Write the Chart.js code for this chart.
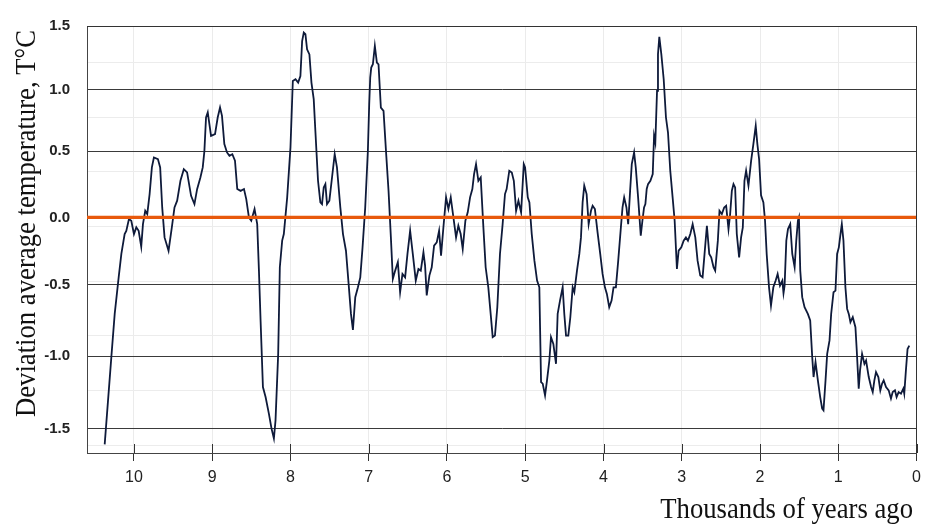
<!DOCTYPE html>
<html><head><meta charset="utf-8">
<script src="https://cdn.jsdelivr.net/npm/chart.js@4.4.1/dist/chart.umd.min.js"></script>
<style>html,body{margin:0;padding:0;background:#fff;}#wrap{width:928px;height:528px;}</style>
</head><body><div id="wrap"><canvas id="c" width="928" height="528"></canvas></div>
<script>
// Thousands of years ago
const years = [10.374,10.289,10.246,10.195,10.161,10.119,10.098,10.064,10.034,10.0,9.97,9.94,9.907,9.885,9.856,9.83,9.80,9.771,9.745,9.694,9.665,9.639,9.609,9.558,9.516,9.482,9.448,9.406,9.363,9.321,9.27,9.227,9.193,9.151,9.121,9.10,9.079,9.057,9.015,8.964,8.93,8.90,8.875,8.845,8.811,8.78,8.743,8.709,8.68,8.637,8.594,8.565,8.531,8.501,8.459,8.425,8.403,8.382,8.352,8.318,8.276,8.242,8.212,8.191,8.157,8.136,8.106,8.085,8.042,8.0,7.97,7.936,7.902,7.873,7.851,7.83,7.809,7.788,7.758,7.732,7.703,7.682,7.648,7.618,7.597,7.575,7.554,7.533,7.503,7.469,7.435,7.406,7.363,7.329,7.291,7.257,7.227,7.202,7.172,7.138,7.108,7.079,7.045,7.011,6.994,6.981,6.968,6.947,6.922,6.896,6.875,6.845,6.811,6.777,6.747,6.717,6.692,6.662,6.628,6.599,6.569,6.535,6.505,6.471,6.437,6.399,6.365,6.335,6.301,6.28,6.259,6.225,6.195,6.165,6.131,6.101,6.076,6.046,6.012,5.982,5.952,5.918,5.884,5.855,5.825,5.799,5.765,5.735,5.705,5.676,5.654,5.629,5.599,5.569,5.535,5.506,5.472,5.442,5.416,5.387,5.357,5.323,5.289,5.259,5.238,5.204,5.172,5.146,5.117,5.087,5.053,5.019,5.002,4.968,4.947,4.917,4.883,4.849,4.82,4.798,4.777,4.747,4.722,4.692,4.671,4.641,4.607,4.586,4.556,4.522,4.501,4.479,4.45,4.424,4.394,4.373,4.339,4.309,4.288,4.267,4.246,4.216,4.19,4.16,4.139,4.11,4.076,4.042,4.012,3.982,3.957,3.927,3.897,3.872,3.842,3.812,3.778,3.757,3.736,3.707,3.685,3.66,3.639,3.609,3.588,3.558,3.524,3.503,3.482,3.465,3.448,3.431,3.401,3.371,3.354,3.338,3.316,3.304,3.287,3.261,3.231,3.202,3.176,3.147,3.117,3.091,3.062,3.04,3.006,2.976,2.947,2.921,2.891,2.861,2.827,2.798,2.764,2.734,2.709,2.679,2.649,2.624,2.594,2.573,2.539,2.518,2.488,2.458,2.433,2.403,2.382,2.36,2.339,2.318,2.297,2.267,2.242,2.22,2.199,2.178,2.148,2.114,2.085,2.055,2.034,2.012,1.987,1.957,1.936,1.915,1.885,1.86,1.83,1.8,1.775,1.745,1.715,1.70,1.686,1.664,1.643,1.614,1.588,1.558,1.537,1.516,1.503,1.486,1.461,1.431,1.389,1.359,1.333,1.316,1.291,1.261,1.231,1.206,1.189,1.163,1.142,1.112,1.091,1.061,1.036,1.015,0.993,0.972,0.955,0.934,0.909,0.887,0.866,0.845,0.815,0.781,0.764,0.739,0.722,0.696,0.666,0.645,0.611,0.581,0.56,0.539,0.518,0.488,0.463,0.441,0.42,0.39,0.356,0.327,0.305,0.276,0.255,0.229,0.199,0.169,0.157,0.136,0.115,0.093];
// Deviation of average temperature, °C
const temps = [-1.61,-1.007,-0.705,-0.445,-0.272,-0.124,-0.10,-0.012,-0.025,-0.124,-0.074,-0.10,-0.218,-0.05,0.05,0.025,0.176,0.377,0.452,0.44,0.377,0.075,-0.149,-0.248,-0.074,0.075,0.126,0.276,0.364,0.339,0.163,0.10,0.213,0.301,0.377,0.5,0.773,0.814,0.624,0.638,0.773,0.854,0.786,0.557,0.49,0.465,0.477,0.427,0.214,0.20,0.214,0.138,0.0,-0.025,0.063,-0.05,-0.396,-0.751,-1.213,-1.282,-1.397,-1.5,-1.569,-1.443,-0.984,-0.371,-0.173,-0.124,0.151,0.53,1.068,1.081,1.055,1.107,1.382,1.448,1.435,1.317,1.277,1.055,0.922,0.665,0.276,0.113,0.10,0.226,0.251,0.10,0.126,0.301,0.477,0.377,0.075,-0.124,-0.248,-0.495,-0.705,-0.816,-0.588,-0.519,-0.446,-0.223,0.075,0.503,0.881,1.094,1.173,1.199,1.343,1.212,1.199,0.854,0.827,0.477,0.201,-0.149,-0.458,-0.396,-0.334,-0.553,-0.421,-0.446,-0.272,-0.099,-0.272,-0.47,-0.384,-0.396,-0.26,-0.359,-0.576,-0.433,-0.371,-0.21,-0.186,-0.099,-0.285,-0.075,0.151,0.063,0.151,0.0,-0.149,-0.062,-0.124,-0.235,-0.025,0.038,0.151,0.214,0.327,0.402,0.276,0.301,-0.074,-0.371,-0.519,-0.705,-0.867,-0.856,-0.658,-0.272,-0.05,0.176,0.214,0.352,0.339,0.276,0.05,0.126,0.038,0.402,0.377,0.151,0.113,-0.124,-0.322,-0.47,-0.519,-1.179,-1.19,-1.271,-1.167,-1.03,-0.867,-0.914,-1.053,-0.705,-0.612,-0.519,-0.705,-0.856,-0.856,-0.728,-0.519,-0.553,-0.396,-0.272,-0.149,0.113,0.239,0.176,-0.05,0.05,0.088,0.063,-0.111,-0.272,-0.421,-0.519,-0.565,-0.658,-0.612,-0.519,-0.519,-0.322,-0.074,0.075,0.151,0.075,-0.05,0.201,0.402,0.49,0.377,0.151,-0.136,-0.025,0.075,0.10,0.214,0.251,0.276,0.327,0.624,0.57,0.99,1.277,1.414,1.277,1.081,0.773,0.651,0.352,0.151,-0.025,-0.384,-0.248,-0.223,-0.173,-0.149,-0.173,-0.124,-0.05,-0.149,-0.322,-0.433,-0.446,-0.272,-0.062,-0.272,-0.297,-0.371,-0.396,-0.173,0.05,0.025,0.075,0.088,-0.087,0.025,0.201,0.251,0.226,-0.124,-0.297,-0.149,-0.074,0.276,0.352,0.239,0.427,0.557,0.705,0.557,0.44,0.166,0.113,-0.025,-0.272,-0.519,-0.647,-0.519,-0.47,-0.421,-0.507,-0.47,-0.56,-0.507,-0.173,-0.087,-0.05,-0.272,-0.371,-0.173,-0.025,0.0,-0.396,-0.588,-0.658,-0.705,-0.751,-1.007,-1.144,-1.041,-1.167,-1.282,-1.362,-1.374,-1.167,-0.984,-0.89,-0.705,-0.553,-0.542,-0.272,-0.223,-0.124,-0.05,-0.173,-0.519,-0.67,-0.705,-0.763,-0.728,-0.798,-0.96,-1.224,-1.098,-0.984,-1.053,-1.03,-1.144,-1.213,-1.248,-1.167,-1.11,-1.144,-1.236,-1.19,-1.167,-1.213,-1.236,-1.293,-1.248,-1.236,-1.282,-1.248,-1.259,-1.224,-1.259,-1.098,-0.95,-0.927];
const zeroLineYears = [0, 10.6];
const zeroLineTemps = [0, 0];
const xTickValues = [10,9,8,7,6,5,4,3,2,1,0];
const xTickLabels = ['10','9','8','7','6','5','4','3','2','1','0'];
const yTickValues = [-1.5,-1,-0.5,0,0.5,1,1.5];
const yTickLabels = ['-1.5','-1.0','-0.5','0.0','0.5','1.0','1.5'];
const bgGridTicks = [0,1,2,3,4,5,6,7];
const yTitleText = 'Deviation average temperature, T°C';
const xTitleText = 'Thousands of years ago';

// uneven vertical axis of the original figure (value -> fraction of axis height)
const KNOT_V = [-1.67,-1.5,-1,-0.5,0,0.5,1,1.5];
const KNOT_F = [0,0.0571,0.2268,0.3944,0.5518,0.7070,0.8511,1];
function interp(v, xs, ys){
  let i = 1;
  while (i < xs.length - 1 && v > xs[i]) i++;
  const t = (v - xs[i-1]) / (xs[i] - xs[i-1]);
  return ys[i-1] + t * (ys[i] - ys[i-1]);
}
class WarpedScale extends Chart.LinearScale {
  getPixelForValue(value){
    if (value === null || value === undefined || isNaN(value)) return NaN;
    return this.getPixelForDecimal(interp(value, KNOT_V, KNOT_F));
  }
  getValueForPixel(pixel){
    return interp(this.getDecimalForPixel(pixel), KNOT_F, KNOT_V);
  }
}
WarpedScale.id = 'warped';
WarpedScale.defaults = Chart.LinearScale.defaults;
Chart.register(WarpedScale);

const framePlugin = {
  id: 'frame',
  afterDraw(chart){
    const {ctx, chartArea:a} = chart;
    const x = chart.scales.x;
    ctx.save();
    ctx.strokeStyle = '#333';
    ctx.lineWidth = 1;
    ctx.beginPath();
    ctx.moveTo(a.left, Math.round(a.top)+0.5); ctx.lineTo(a.right, Math.round(a.top)+0.5);
    ctx.moveTo(Math.round(a.right)-0.5, a.top); ctx.lineTo(Math.round(a.right)-0.5, a.bottom);
    xTickValues.forEach(v => {
      const px = Math.round(x.getPixelForValue(v)) + 0.5;
      ctx.moveTo(px, a.bottom - 9); ctx.lineTo(px, a.bottom);
    });
    ctx.stroke();
    ctx.fillStyle = '#111';
    ctx.font = "26.7px 'Liberation Serif'";
    ctx.save();
    ctx.translate(913, 518); ctx.scale(1, 1.12);
    ctx.textAlign = 'right'; ctx.textBaseline = 'alphabetic';
    ctx.fillText(xTitleText, 0, 0);
    ctx.restore();
    ctx.save();
    ctx.translate(35, 223.5); ctx.rotate(-Math.PI/2); ctx.scale(1, 1.12);
    ctx.textAlign = 'center'; ctx.textBaseline = 'alphabetic';
    ctx.fillText(yTitleText, 0, 0);
    ctx.restore();
    ctx.restore();
  }
};

new Chart(document.getElementById('c').getContext('2d'), {
  type: 'line',
  data: {
    datasets: [
      { label: 'zero', data: zeroLineYears.map((x,i)=>({x, y: zeroLineTemps[i]})), borderColor: '#e8590c', borderWidth: 3.2, pointRadius: 0, order: 0, yAxisID: 'y' },
      { label: 'T', data: years.map((x,i)=>({x, y: temps[i]})), borderColor: '#0e1a3a', borderWidth: 1.8, pointRadius: 0, tension: 0, order: 1, yAxisID: 'y' }
    ]
  },
  options: {
    responsive: false,
    animation: false,
    layout: { padding: { left: 0, right: 9, top: 25, bottom: 0 } },
    plugins: { legend: { display: false }, tooltip: { enabled: false } },
    scales: {
      x: {
        type: 'linear', reverse: true, min: 0, max: 10.6,
        afterBuildTicks: s => { s.ticks = xTickValues.map(v => ({ value: v })); },
        afterFit: s => { s.height = 75; },
        ticks: { callback: (v, i) => xTickLabels[i], font: { family: 'Liberation Sans', size: 16 }, color: '#222', padding: 7, maxRotation: 0, autoSkip: false },
        grid: { color: '#ebebeb', tickColor: '#333', tickLength: 8, lineWidth: 1 },
        border: { display: true, color: '#444', width: 1 }
      },
      y: {
        type: 'warped', min: -1.67, max: 1.5,
        afterBuildTicks: s => { s.ticks = yTickValues.map(v => ({ value: v })); },
        afterFit: s => { s.width = 87; },
        ticks: { callback: (v, i) => yTickLabels[i], font: { family: 'Liberation Sans', size: 15, weight: 'bold' }, color: '#222', padding: 17 },
        grid: { color: c => (c.tick && c.tick.value === 0) ? 'rgba(0,0,0,0)' : '#3a3a3a', drawTicks: false, lineWidth: 1 },
        border: { display: true, color: '#444', width: 1 }
      },
      y2: {
        type: 'linear', position: 'right', min: -0.14, max: 7.67,
        afterBuildTicks: s => { s.ticks = bgGridTicks.map(v => ({ value: v })); },
        afterFit: s => { s.width = 0; },
        ticks: { display: false },
        grid: { color: '#ececec', drawTicks: false, lineWidth: 1 },
        border: { display: false }
      }
    }
  },
  plugins: [framePlugin]
});
</script>
</body></html>
